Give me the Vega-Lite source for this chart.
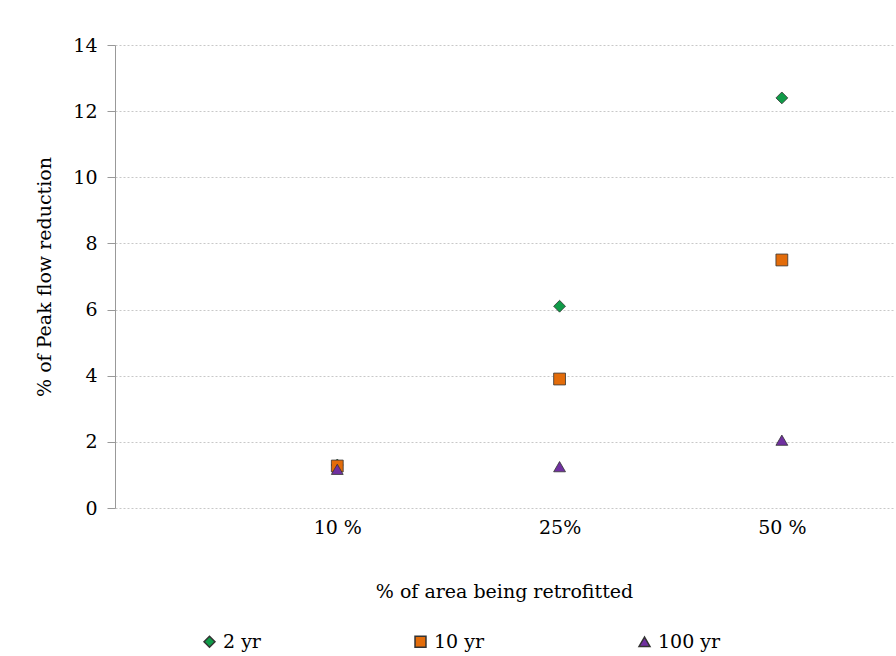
{
  "$schema": "https://vega.github.io/schema/vega-lite/v6.json",
  "autosize": {"type": "none"},
  "width": 778,
  "height": 463,
  "padding": {"left": 115, "top": 45, "right": 3, "bottom": 148},
  "background": "white",
  "config": {
    "font": "DejaVu Serif",
    "view": {"stroke": null},
    "axis": {"labelFont": "DejaVu Serif", "titleFont": "DejaVu Serif", "labelColor": "#000", "titleColor": "#000", "titleFontWeight": "normal"},
    "legend": {"labelFont": "DejaVu Serif"}
  },
  "data": {
    "values": [
      {"area": 1, "period": "2 yr", "reduction": 1.3},
      {"area": 2, "period": "2 yr", "reduction": 6.1},
      {"area": 3, "period": "2 yr", "reduction": 12.4},
      {"area": 1, "period": "10 yr", "reduction": 1.27},
      {"area": 2, "period": "10 yr", "reduction": 3.9},
      {"area": 3, "period": "10 yr", "reduction": 7.5},
      {"area": 1, "period": "100 yr", "reduction": 1.17},
      {"area": 2, "period": "100 yr", "reduction": 1.25},
      {"area": 3, "period": "100 yr", "reduction": 2.05}
    ]
  },
  "mark": {"type": "point", "filled": true, "opacity": 1, "size": 140, "stroke": "#333", "strokeWidth": 0.8},
  "encoding": {
    "x": {
      "field": "area", "type": "quantitative",
      "scale": {"domain": [0, 3.5], "nice": false, "zero": false},
      "axis": {
        "values": [1, 2, 3],
        "labelExpr": "datum.value == 1 ? '10 %' : datum.value == 2 ? '25%' : '50 %'",
        "title": "% of area being retrofitted",
        "domain": false, "ticks": false, "grid": false,
        "labelFontSize": 19, "titleFontSize": 19,
        "labelPadding": 10, "titlePadding": 45
      }
    },
    "y": {
      "field": "reduction", "type": "quantitative",
      "scale": {"domain": [0, 14], "nice": false},
      "axis": {
        "values": [0, 2, 4, 6, 8, 10, 12, 14],
        "title": "% of Peak flow reduction",
        "domainColor": "#999", "tickColor": "#999", "tickSize": 8,
        "grid": true, "gridColor": "#c8c8c8", "gridDash": [2, 2], "gridWidth": 1,
        "labelFontSize": 19, "titleFontSize": 19,
        "labelPadding": 10, "titlePadding": 18
      }
    },
    "color": {
      "field": "period", "type": "nominal",
      "scale": {"domain": ["2 yr", "10 yr", "100 yr"], "range": ["#109b48", "#e36c0a", "#7030a0"]},
      "legend": {
        "title": null, "orient": "none", "direction": "horizontal",
        "legendX": 85, "legendY": 587,
        "labelFontSize": 19, "symbolSize": 120, "symbolStrokeColor": "#333",
        "columnPadding": 150, "labelOffset": 4
      }
    },
    "shape": {
      "field": "period", "type": "nominal",
      "scale": {"domain": ["2 yr", "10 yr", "100 yr"], "range": ["diamond", "square", "triangle-up"]}
    }
  }
}
